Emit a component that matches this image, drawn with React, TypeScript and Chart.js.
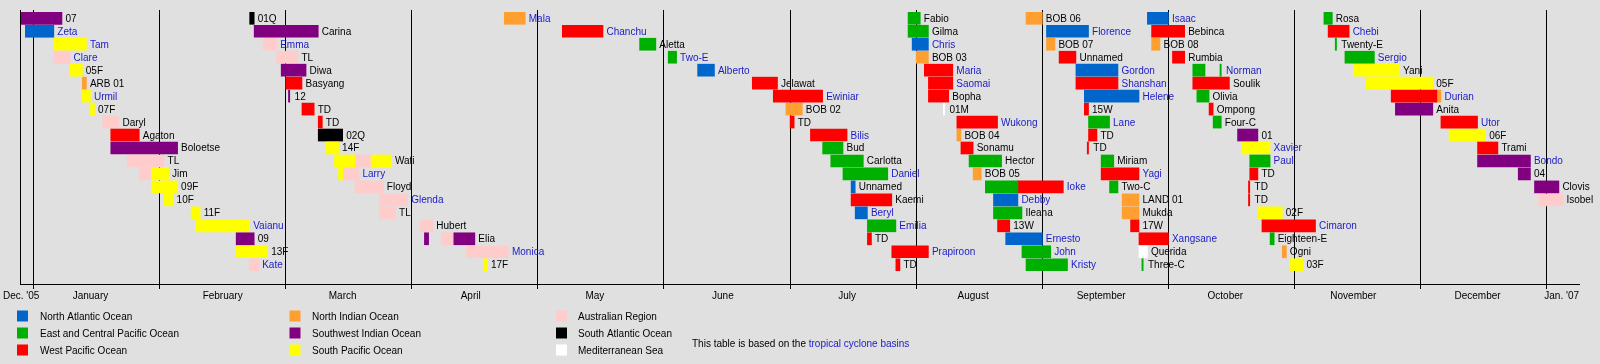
import React, { useEffect, useRef } from "react";
import { Chart, registerables } from "chart.js";
Chart.register(...registerables);

// [row, start, end, label, isLink]
type Seg = [number, string, string, string, number];

const northAtlantic: Seg[] = [
  [1, "2005-12-30", "2006-01-06", "Zeta", 1],
  [4, "2006-06-09", "2006-06-13", "Alberto", 1],
  [2, "2006-07-31", "2006-08-04", "Chris", 1],
  [13, "2006-07-16", "2006-07-17", "Unnamed", 0],
  [15, "2006-07-17", "2006-07-20", "Beryl", 1],
  [14, "2006-08-20", "2006-08-26", "Debby", 1],
  [17, "2006-08-23", "2006-09-01", "Ernesto", 1],
  [1, "2006-09-02", "2006-09-12", "Florence", 1],
  [4, "2006-09-09", "2006-09-19", "Gordon", 1],
  [6, "2006-09-11", "2006-09-24", "Helene", 1],
  [0, "2006-09-26", "2006-10-01", "Isaac", 1],
];

const eastPacific: Seg[] = [
  [2, "2006-05-26", "2006-05-30", "Aletta", 0],
  [3, "2006-06-02", "2006-06-04", "Two-E", 1],
  [10, "2006-07-09", "2006-07-14", "Bud", 0],
  [11, "2006-07-11", "2006-07-19", "Carlotta", 0],
  [12, "2006-07-14", "2006-07-25", "Daniel", 1],
  [16, "2006-07-20", "2006-07-27", "Emilia", 1],
  [0, "2006-07-30", "2006-08-02", "Fabio", 0],
  [1, "2006-07-30", "2006-08-04", "Gilma", 0],
  [11, "2006-08-14", "2006-08-22", "Hector", 0],
  [13, "2006-08-18", "2006-08-26", "", 0],
  [15, "2006-08-20", "2006-08-27", "Ileana", 0],
  [18, "2006-08-27", "2006-09-03", "John", 1],
  [19, "2006-08-28", "2006-09-07", "Kristy", 1],
  [8, "2006-09-12", "2006-09-17", "Lane", 1],
  [11, "2006-09-15", "2006-09-18", "Miriam", 0],
  [13, "2006-09-17", "2006-09-19", "Two-C", 0],
  [19, "2006-09-25", "2006-09-25", "Three-C", 0],
  [4, "2006-10-07", "2006-10-10", "", 0],
  [4, "2006-10-14", "2006-10-14", "Norman", 1],
  [6, "2006-10-08", "2006-10-11", "Olivia", 0],
  [8, "2006-10-12", "2006-10-14", "Four-C", 0],
  [11, "2006-10-21", "2006-10-26", "Paul", 1],
  [17, "2006-10-26", "2006-10-27", "Eighteen-E", 0],
  [0, "2006-11-08", "2006-11-10", "Rosa", 0],
  [2, "2006-11-11", "2006-11-11", "Twenty-E", 0],
  [3, "2006-11-13", "2006-11-20", "Sergio", 1],
];

const westPacific: Seg[] = [
  [9, "2006-01-20", "2006-01-27", "Agaton", 0],
  [5, "2006-03-01", "2006-03-05", "Basyang", 0],
  [7, "2006-03-05", "2006-03-08", "TD", 0],
  [8, "2006-03-09", "2006-03-10", "TD", 0],
  [1, "2006-05-07", "2006-05-17", "Chanchu", 1],
  [5, "2006-06-22", "2006-06-28", "Jelawat", 0],
  [6, "2006-06-27", "2006-07-09", "Ewiniar", 1],
  [8, "2006-07-01", "2006-07-02", "TD", 0],
  [9, "2006-07-06", "2006-07-15", "Bilis", 1],
  [14, "2006-07-16", "2006-07-26", "Kaemi", 0],
  [17, "2006-07-20", "2006-07-21", "TD", 0],
  [18, "2006-07-26", "2006-08-04", "Prapiroon", 1],
  [19, "2006-07-27", "2006-07-28", "TD", 0],
  [4, "2006-08-03", "2006-08-10", "Maria", 1],
  [5, "2006-08-04", "2006-08-10", "Saomai", 1],
  [6, "2006-08-04", "2006-08-09", "Bopha", 0],
  [8, "2006-08-11", "2006-08-21", "Wukong", 1],
  [10, "2006-08-12", "2006-08-15", "Sonamu", 0],
  [16, "2006-08-21", "2006-08-24", "13W", 0],
  [13, "2006-08-26", "2006-09-06", "Ioke", 1],
  [3, "2006-09-05", "2006-09-09", "Unnamed", 0],
  [5, "2006-09-09", "2006-09-19", "Shanshan", 1],
  [7, "2006-09-11", "2006-09-12", "15W", 0],
  [9, "2006-09-12", "2006-09-14", "TD", 0],
  [10, "2006-09-12", "2006-09-12", "TD", 0],
  [12, "2006-09-15", "2006-09-24", "Yagi", 1],
  [16, "2006-09-22", "2006-09-24", "17W", 0],
  [17, "2006-09-24", "2006-10-01", "Xangsane", 1],
  [1, "2006-09-27", "2006-10-05", "Bebinca", 0],
  [3, "2006-10-02", "2006-10-05", "Rumbia", 0],
  [5, "2006-10-07", "2006-10-16", "Soulik", 0],
  [7, "2006-10-11", "2006-10-12", "Ompong", 0],
  [12, "2006-10-21", "2006-10-23", "TD", 0],
  [13, "2006-10-21", "2006-10-21", "TD", 0],
  [14, "2006-10-21", "2006-10-21", "TD", 0],
  [16, "2006-10-24", "2006-11-06", "Cimaron", 1],
  [1, "2006-11-09", "2006-11-14", "Chebi", 1],
  [6, "2006-11-24", "2006-12-05", "", 0],
  [8, "2006-12-06", "2006-12-15", "Utor", 1],
  [10, "2006-12-15", "2006-12-20", "Trami", 0],
];

const northIndian: Seg[] = [
  [5, "2006-01-13", "2006-01-14", "ARB 01", 0],
  [0, "2006-04-23", "2006-04-28", "Mala", 1],
  [7, "2006-06-30", "2006-07-04", "BOB 02", 0],
  [3, "2006-08-01", "2006-08-04", "BOB 03", 0],
  [9, "2006-08-11", "2006-08-12", "BOB 04", 0],
  [12, "2006-08-15", "2006-08-17", "BOB 05", 0],
  [0, "2006-08-28", "2006-09-01", "BOB 06", 0],
  [2, "2006-09-02", "2006-09-04", "BOB 07", 0],
  [14, "2006-09-20", "2006-09-24", "LAND 01", 0],
  [15, "2006-09-20", "2006-09-24", "Mukda", 0],
  [2, "2006-09-27", "2006-09-29", "BOB 08", 0],
  [18, "2006-10-29", "2006-10-30", "Ogni", 0],
  [6, "2006-12-05", "2006-12-06", "Durian", 1],
];

const southwestIndian: Seg[] = [
  [0, "2005-12-27", "2006-01-08", "07", 0],
  [10, "2006-01-20", "2006-02-05", "Boloetse", 0],
  [17, "2006-02-18", "2006-02-22", "09", 0],
  [1, "2006-02-22", "2006-03-09", "Carina", 0],
  [4, "2006-02-28", "2006-03-06", "Diwa", 0],
  [6, "2006-03-02", "2006-03-02", "12", 0],
  [17, "2006-04-04", "2006-04-05", "", 0],
  [17, "2006-04-11", "2006-04-16", "Elia", 0],
  [9, "2006-10-18", "2006-10-23", "01", 0],
  [7, "2006-11-25", "2006-12-04", "Anita", 0],
  [11, "2006-12-15", "2006-12-28", "Bondo", 1],
  [12, "2006-12-25", "2006-12-28", "04", 0],
  [13, "2006-12-29", "2007-01-04", "Clovis", 0],
];

const southPacific: Seg[] = [
  [2, "2006-01-06", "2006-01-14", "Tam", 1],
  [4, "2006-01-10", "2006-01-13", "05F", 0],
  [6, "2006-01-13", "2006-01-15", "Urmil", 1],
  [7, "2006-01-15", "2006-01-16", "07F", 0],
  [12, "2006-01-30", "2006-02-03", "Jim", 0],
  [13, "2006-01-30", "2006-02-05", "09F", 0],
  [14, "2006-02-02", "2006-02-04", "10F", 0],
  [15, "2006-02-08", "2006-02-10", "11F", 0],
  [16, "2006-02-09", "2006-02-21", "Vaianu", 1],
  [18, "2006-02-18", "2006-02-25", "13F", 0],
  [10, "2006-03-11", "2006-03-14", "14F", 0],
  [11, "2006-03-13", "2006-03-18", "", 0],
  [11, "2006-03-22", "2006-03-27", "Wati", 0],
  [12, "2006-03-14", "2006-03-15", "", 0],
  [19, "2006-04-18", "2006-04-19", "17F", 0],
  [10, "2006-10-19", "2006-10-26", "Xavier", 1],
  [15, "2006-10-23", "2006-10-29", "02F", 0],
  [19, "2006-10-31", "2006-11-03", "03F", 0],
  [4, "2006-11-15", "2006-11-26", "Yani", 0],
  [5, "2006-11-18", "2006-12-04", "05F", 0],
  [9, "2006-12-08", "2006-12-17", "06F", 0],
];

const australian: Seg[] = [
  [3, "2006-01-06", "2006-01-10", "Clare", 1],
  [8, "2006-01-18", "2006-01-22", "Daryl", 0],
  [11, "2006-01-24", "2006-02-02", "TL", 0],
  [12, "2006-01-27", "2006-01-30", "", 0],
  [2, "2006-02-24", "2006-02-27", "Emma", 1],
  [3, "2006-02-27", "2006-03-04", "TL", 0],
  [19, "2006-02-21", "2006-02-23", "Kate", 1],
  [11, "2006-03-18", "2006-03-22", "", 0],
  [12, "2006-03-15", "2006-03-19", "Larry", 1],
  [13, "2006-03-18", "2006-03-25", "Floyd", 0],
  [14, "2006-03-24", "2006-03-31", "Glenda", 1],
  [15, "2006-03-24", "2006-03-28", "TL", 0],
  [16, "2006-04-03", "2006-04-06", "Hubert", 0],
  [17, "2006-04-08", "2006-04-11", "", 0],
  [18, "2006-04-14", "2006-04-24", "Monica", 1],
  [14, "2006-12-30", "2007-01-05", "Isobel", 0],
];

const southAtlantic: Seg[] = [
  [0, "2006-02-21", "2006-02-22", "01Q", 0],
  [9, "2006-03-09", "2006-03-15", "02Q", 0],
];

const mediterranean: Seg[] = [
  [7, "2006-08-08", "2006-08-08", "01M", 0],
  [18, "2006-09-24", "2006-09-26", "Querida", 0],
];

const monthLabels = [
  "January", "February", "March", "April", "May", "June",
  "July", "August", "September", "October", "November", "December",
];
const firstLabel = "Dec. '05";
const lastLabel = "Jan. '07";
const noteText = "This table is based on the ";
const noteLink = "tropical cyclone basins";

const basins = [
  { name: "North Atlantic Ocean", color: "#0066cc", segs: northAtlantic },
  { name: "East and Central Pacific Ocean", color: "#00b000", segs: eastPacific },
  { name: "West Pacific Ocean", color: "#ff0000", segs: westPacific },
  { name: "North Indian Ocean", color: "#ff9f30", segs: northIndian },
  { name: "Southwest Indian Ocean", color: "#800080", segs: southwestIndian },
  { name: "South Pacific Ocean", color: "#ffff00", segs: southPacific },
  { name: "Australian Region", color: "#ffcccc", segs: australian },
  { name: "South Atlantic Ocean", color: "#000000", segs: southAtlantic },
  { name: "Mediterranean Sea", color: "#ffffff", segs: mediterranean },
];

const BG = "#e0e0e0";
const LINK = "#1a1ac8";
const FONT = "10px 'Liberation Sans', Arial, sans-serif";
const MIN_BAR = 1.3;

const toMonths = (s: string) => {
  const [y, m, d] = s.split("-").map(Number);
  const dim = new Date(y, m, 0).getDate();
  return (y - 2006) * 12 + (m - 1) + (d - 1) / dim;
};

export default function App() {
  const ref = useRef<HTMLCanvasElement>(null);

  useEffect(() => {
    const canvas = ref.current!;
    const datasets = basins.map((b) => ({
      label: b.name,
      data: b.segs.map((s) => ({ x: [toMonths(s[1]), toMonths(s[2])], y: s[0] })),
      backgroundColor: b.color,
      borderWidth: 0,
      barThickness: 12,
      grouped: false,
      minBarLength: MIN_BAR,
    }));

    const overlay = {
      id: "overlay",
      beforeDraw(chart: any) {
        const { ctx, chartArea: a, scales } = chart;
        const xs = scales.x;
        ctx.save();
        ctx.fillStyle = BG;
        ctx.fillRect(0, 0, chart.width, chart.height);
        ctx.strokeStyle = "#000";
        ctx.lineWidth = 1;
        ctx.beginPath();
        ctx.moveTo(a.left - 0.5, a.top);
        ctx.lineTo(a.left - 0.5, a.bottom + 1);
        for (let m = 0; m <= 12; m++) {
          const px = Math.floor(xs.getPixelForValue(m)) + 0.5;
          ctx.moveTo(px, a.top);
          ctx.lineTo(px, a.bottom + 5);
        }
        ctx.moveTo(a.left - 1, a.bottom + 0.5);
        ctx.lineTo(a.right, a.bottom + 0.5);
        ctx.stroke();

        ctx.font = FONT;
        ctx.fillStyle = "#000";
        ctx.textBaseline = "alphabetic";
        const ly = a.bottom + 15;
        ctx.textAlign = "center";
        monthLabels.forEach((lab, i) => {
          const dim = new Date(2006, i + 1, 0).getDate();
          ctx.fillText(lab, xs.getPixelForValue(i + 14 / dim), ly);
        });
        ctx.textAlign = "left";
        ctx.fillText(firstLabel, a.left - 18, ly);
        ctx.textAlign = "right";
        ctx.fillText(lastLabel, a.right - 1, ly);

        ctx.textAlign = "left";
        const colX = [17, 289.5, 556];
        const textX = [40, 312, 578];
        const rowY = [316, 333, 350];
        basins.forEach((b, i) => {
          const c = Math.floor(i / 3);
          const r = i % 3;
          ctx.fillStyle = b.color;
          ctx.fillRect(colX[c], rowY[r] - 5.5, 11, 11);
          ctx.fillStyle = "#000";
          ctx.fillText(b.name, textX[c], rowY[r] + 3.5);
        });
        ctx.fillStyle = "#000";
        ctx.fillText(noteText, 692, 347);
        const w = ctx.measureText(noteText).width;
        ctx.fillStyle = LINK;
        ctx.fillText(noteLink, 692 + w, 347);
        ctx.restore();
      },
      afterDatasetsDraw(chart: any) {
        const { ctx, scales } = chart;
        ctx.save();
        ctx.font = FONT;
        ctx.textAlign = "left";
        ctx.textBaseline = "alphabetic";
        basins.forEach((b) => {
          b.segs.forEach((s) => {
            if (!s[3]) return;
            const x0 = scales.x.getPixelForValue(toMonths(s[1]));
            let x1 = scales.x.getPixelForValue(toMonths(s[2]));
            if (x1 - x0 < MIN_BAR) x1 = x0 + MIN_BAR;
            const y = scales.y.getPixelForValue(s[0]);
            ctx.fillStyle = s[4] ? LINK : "#000";
            ctx.fillText(s[3], x1 + 3.5, y + 3.5);
          });
        });
        ctx.restore();
      },
    };

    const chart = new Chart(canvas, {
      type: "bar",
      data: { datasets } as any,
      options: {
        indexAxis: "y",
        responsive: false,
        animation: false,
        devicePixelRatio: 1,
        layout: { padding: { left: 21, right: 20, top: 10, bottom: 80 } },
        plugins: { legend: { display: false }, tooltip: { enabled: false } },
        scales: {
          x: { type: "linear", min: (21 - 33.5) / 126.1, max: (1580 - 33.5) / 126.1, display: false, offset: false },
          y: { type: "linear", min: -0.64, max: 20.486, reverse: true, display: false, offset: false },
        },
      } as any,
      plugins: [overlay],
    });
    return () => chart.destroy();
  }, []);

  return (
    <div style={{ position: "fixed", left: 0, top: 0, width: 1600, height: 364, background: BG }}>
      <canvas ref={ref} width={1600} height={364} style={{ display: "block" }} />
    </div>
  );
}
